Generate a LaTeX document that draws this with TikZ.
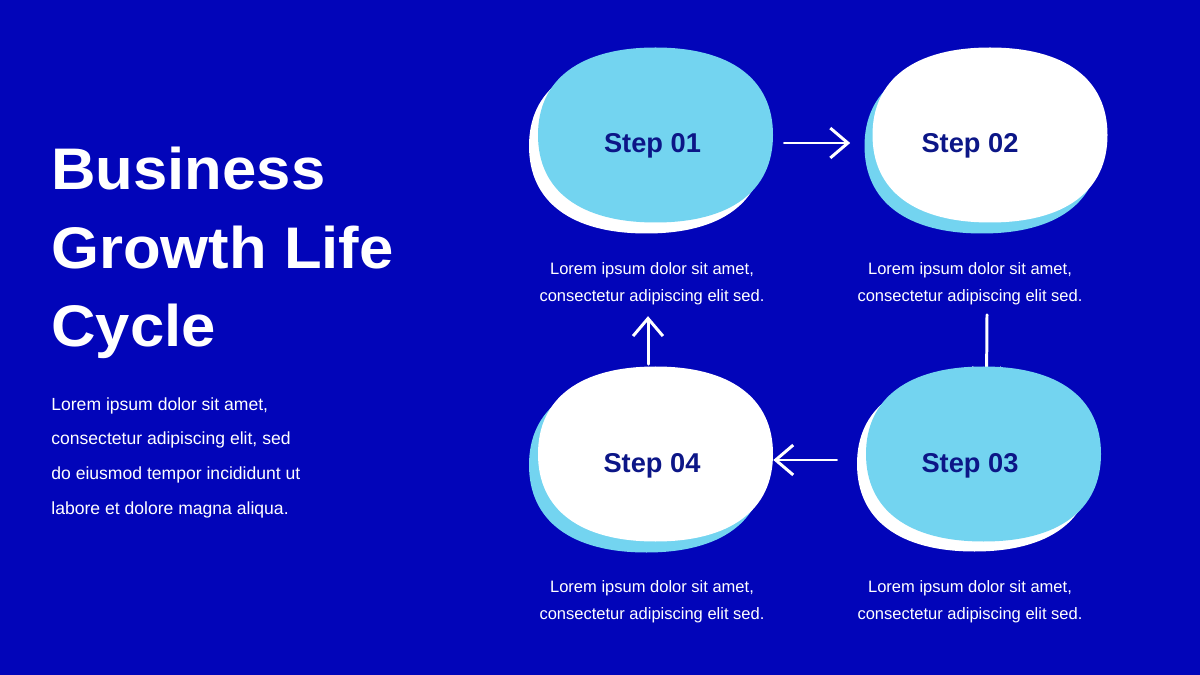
\documentclass[tikz,border=0pt]{standalone}
\usepackage{fontspec}
\setmainfont{Liberation Sans}
\usetikzlibrary{arrows.meta, positioning, calc}
\definecolor{cycblue}{RGB}{2, 5, 185}
\definecolor{cycsky}{RGB}{115, 212, 240}
\definecolor{cycnavy}{RGB}{12, 22, 135}

\tikzset{
  blob/.pic={
    \path[pic actions] (117.5,0) .. controls (117.5,56) and (75,87.5) .. (0,87.5)
      .. controls (-75,87.5) and (-117.5,56) .. (-117.5,0)
      .. controls (-117.5,-56) and (-75,-87.5) .. (0,-87.5)
      .. controls (75,-87.5) and (117.5,-56) .. (117.5,0) -- cycle;
  }
}

\begin{document}
\begin{tikzpicture}[
    x=0.02cm, y=-0.02cm,
    blobbox/.style={rectangle, minimum width=4.7cm, minimum height=3.5cm, inner sep=0pt},
    steplabel/.style={font=\fontsize{15.5}{18}\selectfont\bfseries, text=cycnavy, anchor=base, inner sep=0pt},
    captext/.style={font=\fontsize{9.4}{15.3}\selectfont, text=white, align=center, anchor=north, inner sep=0pt},
    headline/.style={font=\fontsize{33.4}{44.5}\selectfont\bfseries\addfontfeature{FakeStretch=1.05}, text=white, align=left, anchor=north west, inner sep=0pt},
    bodytext/.style={font=\fontsize{10}{19.8}\selectfont, text=white, align=left, anchor=north west, inner sep=0pt},
    arrow/.style={-{Straight Barb[length=10pt, width=17pt]}, line width=1.7pt, white, line cap=round}
]

% Fondo
\fill[cycblue] (0,0) rectangle (1200,675);
\useasboundingbox (0,0) rectangle (1200,675);

% Cajas de las cuatro etapas
\node[blobbox] (b1) at (655.5,135) {};
\node[blobbox] (b2) at (990,135) {};
\node[blobbox] (b3) at (983.5,454) {};
\node[blobbox] (b4) at (655.5,454) {};

% Flechas del ciclo
\draw[arrow] ([shift={(11,8)}]b1.east) -- ([shift={(-22,8)}]b2.west);
\draw[arrow] ([shift={(-3,92)}]b2.south) -- ([shift={(3,21)}]b3.north);
\draw[arrow] ([shift={(-29,6)}]b3.west) -- ([shift={(0,6)}]b4.east);
\draw[arrow] ([shift={(-7.5,-2)}]b4.north) -- ([shift={(-7.5,-50)}]b4.north);

% Formas (sombra y frente)
\pic[fill=white] at ([shift={(-9,11)}]b1.center) {blob};
\pic[fill=cycsky] at (b1.center) {blob};
\pic[fill=cycsky] at ([shift={(-8,11)}]b2.center) {blob};
\pic[fill=white] at (b2.center) {blob};
\pic[fill=white] at ([shift={(-9,10)}]b3.center) {blob};
\pic[fill=cycsky] at (b3.center) {blob};
\pic[fill=cycsky] at ([shift={(-9,11)}]b4.center) {blob};
\pic[fill=white] at (b4.center) {blob};

% Etiquetas de las etapas
\node[steplabel] (s1) at (652.5,153) {Step 01};
\node[steplabel] (s2) at (970,153) {Step 02};
\node[steplabel] (s3) at (970,472) {Step 03};
\node[steplabel] (s4) at (652,472) {Step 04};

% Textos bajo cada etapa
\node[captext] (t1) at (652,262) {Lorem ipsum dolor sit amet,\\consectetur adipiscing elit sed.};
\node[captext] (t2) at (970,262) {Lorem ipsum dolor sit amet,\\consectetur adipiscing elit sed.};
\node[captext] (t3) at (970,580) {Lorem ipsum dolor sit amet,\\consectetur adipiscing elit sed.};
\node[captext] (t4) at (652,580) {Lorem ipsum dolor sit amet,\\consectetur adipiscing elit sed.};

% Título y descripción
\node[headline] (title) at (51,147) {Business\\Growth Life\\Cycle};
\node[bodytext] (desc) at (51,397) {Lorem ipsum dolor sit amet,\\consectetur adipiscing elit, sed\\do eiusmod tempor incididunt ut\\labore et dolore magna aliqua.};

\end{tikzpicture}
\end{document}
